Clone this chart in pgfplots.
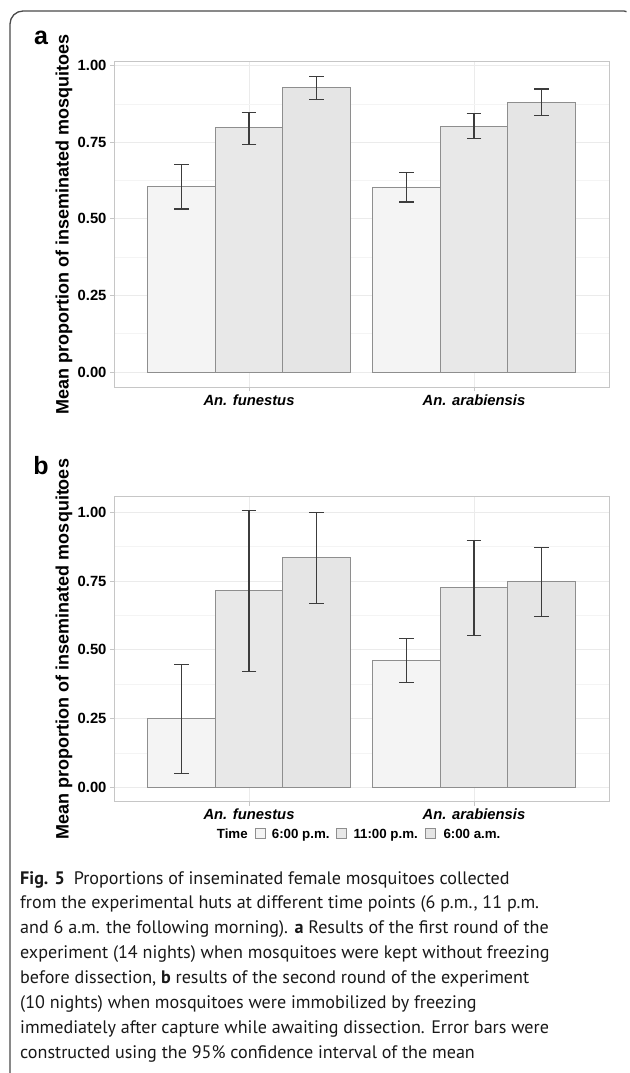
\documentclass[border=0pt]{standalone}
\usepackage{pgfplots}
\pgfplotsset{compat=1.18}
\usepackage{pgfplotstable}
\usepackage{fontspec}
\setmainfont{Liberation Sans}
\newfontfamily\capfont{PT Sans}
\definecolor{cA}{HTML}{F4F4F4}
\definecolor{cB}{HTML}{E8E8E8}
\definecolor{cC}{HTML}{E5E5E5}
\definecolor{edge}{HTML}{8E8E8E}
\definecolor{errc}{HTML}{3C3C3C}
\definecolor{gmaj}{HTML}{EBEBEB}
\definecolor{gmin}{HTML}{F4F4F4}
\definecolor{bord}{HTML}{C6C6C6}
\definecolor{framec}{HTML}{4A4A4A}

% panel a
\pgfplotstableread{
x y ep em
0.7 0.605 0.072 0.073
1.7 0.604 0.047 0.049
}\aA
\pgfplotstableread{
x y ep em
1.0 0.797 0.050 0.054
2.0 0.803 0.040 0.040
}\aB
\pgfplotstableread{
x y ep em
1.3 0.928 0.037 0.038
2.3 0.880 0.044 0.044
}\aC
% panel b
\pgfplotstableread{
x y ep em
0.7 0.251 0.197 0.200
1.7 0.462 0.078 0.080
}\bA
\pgfplotstableread{
x y ep em
1.0 0.715 0.292 0.292
2.0 0.726 0.171 0.173
}\bB
\pgfplotstableread{
x y ep em
1.3 0.835 0.164 0.165
2.3 0.748 0.125 0.126
}\bC

\pgfplotsset{
  panel/.style={
    scale only axis, width=495pt, anchor=south west,
    xmin=0.4, xmax=2.6,
    xtick={1,2},
    xticklabels={\textbf{\textit{An. funestus}},\textbf{\textit{An. arabiensis}}},
    ytick={0,0.25,0.5,0.75,1},
    yticklabels={0.00,0.25,0.50,0.75,1.00},
    minor ytick={0.125,0.375,0.625,0.875},
    grid=both,
    major grid style={gmaj, line width=0.9pt},
    minor grid style={gmin, line width=0.7pt},
    axis line style={bord, line width=1pt},
    tick style={bord, line width=0.9pt},
    major tick length=4pt, minor tick length=0pt,
    tick align=outside, tick pos=left,
    tick label style={font=\fontsize{14.8}{16}\selectfont\bfseries, black},
  },
  bars/.style={
    ybar, bar width=67.5pt, bar shift=0pt,
    fill=#1, draw=edge, line width=0.9pt,
    error bars/.cd, y dir=both, y explicit,
    error bar style={errc, line width=1.1pt},
    error mark options={errc, line width=1.1pt, mark size=7.3pt, rotate=90},
  },
}

\begin{document}
\begin{tikzpicture}
\useasboundingbox (0,0) rectangle (629pt,-1073pt);
% frame
\draw[framec, line width=1.3pt] (10pt,-1080pt) -- (10pt,-24pt)
  arc[start angle=180, end angle=90, radius=13pt] -- (624pt,-11pt)
  arc[start angle=90, end angle=60, radius=5pt];

% panel a
\begin{axis}[panel, at={(114pt,-387pt)}, height=325pt, ymin=-0.049, ymax=1.012]
\addplot[bars=cA] table[x=x, y=y, y error plus=ep, y error minus=em]{\aA};
\addplot[bars=cB] table[x=x, y=y, y error plus=ep, y error minus=em]{\aB};
\addplot[bars=cC] table[x=x, y=y, y error plus=ep, y error minus=em]{\aC};
\end{axis}
\node[font=\fontsize{25}{25}\selectfont\bfseries] at (41pt,-38pt) {a};
\node[rotate=90, font=\fontsize{18}{18}\selectfont\bfseries] at (64pt,-224.5pt)
  {Mean proportion of inseminated mosquitoes};

% panel b
\begin{axis}[panel, at={(114pt,-801.7pt)}, height=305pt, ymin=-0.052, ymax=1.057]
\addplot[bars=cA] table[x=x, y=y, y error plus=ep, y error minus=em]{\bA};
\addplot[bars=cB] table[x=x, y=y, y error plus=ep, y error minus=em]{\bB};
\addplot[bars=cC] table[x=x, y=y, y error plus=ep, y error minus=em]{\bC};
\end{axis}
\node[font=\fontsize{25}{25}\selectfont\bfseries] at (41pt,-466pt) {b};
\node[rotate=90, font=\fontsize{18}{18}\selectfont\bfseries] at (64pt,-649pt)
  {Mean proportion of inseminated mosquitoes};

% legend
\begin{scope}[every node/.style={font=\fontsize{13.3}{14}\selectfont\bfseries, inner sep=0pt, anchor=base west}]
\node at (216.7pt,-838pt) {Time};
\draw[edge, fill=cA, line width=0.7pt] (255pt,-828.3pt) rectangle (265pt,-838.3pt);
\node at (271.7pt,-838pt) {6:00 p.m.};
\draw[edge, fill=cB, line width=0.7pt] (336.7pt,-828.3pt) rectangle (346.7pt,-838.3pt);
\node at (353.3pt,-838pt) {11:00 p.m.};
\draw[edge, fill=cC, line width=0.7pt] (425.7pt,-828.3pt) rectangle (435.7pt,-838.3pt);
\node at (443.3pt,-838pt) {6:00 a.m.};
\end{scope}

% caption
\node[anchor=north west, inner sep=0pt, align=left, text=black!90,
  font=\capfont\fontsize{18.1}{24.9}\selectfont] at (20pt,-871pt)
{\textbf{Fig. 5}\enspace Proportions of inseminated female mosquitoes collected\\
from the experimental huts at different time points (6 p.m., 11 p.m.\\
and 6 a.m. the following morning). \textbf{a} Results of the first round of the\\
experiment (14 nights) when mosquitoes were kept without freezing\\
before dissection, \textbf{b} results of the second round of the experiment\\
(10 nights) when mosquitoes were immobilized by freezing\\
immediately after capture while awaiting dissection. Error bars were\\
constructed using the 95\% confidence interval of the mean};
\end{tikzpicture}
\end{document}
